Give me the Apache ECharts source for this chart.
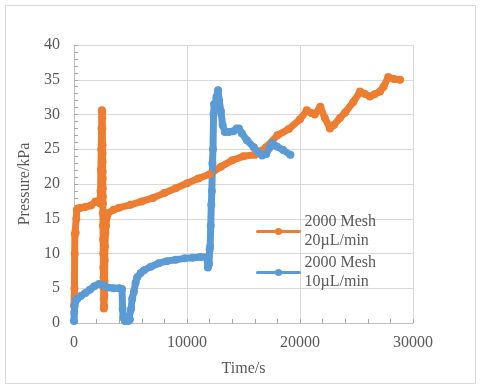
<!DOCTYPE html>
<html>
<head>
<meta charset="utf-8">
<script src="https://cdn.jsdelivr.net/npm/echarts@6/dist/echarts.min.js"></script>
<style>
html,body{margin:0;padding:0;background:#fff;}
#chart{width:480px;height:389px;}
</style>
</head>
<body>
<div id="chart"></div>
<script>
// Series names (legend)
const seriesNames = ['2000 Mesh\n20\u00b5L/min', '2000 Mesh\n10\u00b5L/min'];

// Axis ticks
const xTicks = [0, 10000, 20000, 30000];
const yTicks = [0, 5, 10, 15, 20, 25, 30, 35, 40];

// 2000 Mesh 20 uL/min (orange): time (s) and pressure (kPa)
const orangeTime = [0, 40, 60, 80, 150, 200, 250, 400, 600, 1000, 1500, 1900, 2100, 2300,
  2350, 2380, 2410, 2440, 2470, 2490, 2500, 2510, 2520, 2525, 2530, 2535, 2540, 2545, 2550, 2555,
  2560, 2570, 2580, 2590, 2600, 2610, 2620, 2630, 2640, 2660, 2680, 2700, 2720, 2740, 2780, 2830, 2900,
  3000, 3500, 4000, 5000, 6000, 7000, 8000, 9000, 10000, 11000, 12000, 13000, 14000,
  15000, 16000, 16500, 17000, 18000, 19000, 20000, 20600, 21000, 21300, 21800, 22200, 22650,
  23000, 23540, 24000, 24720, 25310, 25700, 26190, 26600, 27080, 27400, 27810, 28300, 28850];
const orangePressure = [2.5, 5, 10, 12.8, 13, 15, 16.3, 16.5, 16.6, 16.7, 16.9, 17.5, 17.5, 17.2,
  19, 22, 25, 28, 30.6, 30.3, 29.5, 28, 25.6, 24.4, 23.2, 21.8, 20.8, 19.4, 18.2, 17.2,
  15.8, 14, 12, 10, 8, 6.5, 5, 3.5, 2.1, 2.5, 4, 6, 9, 11, 13, 14, 15.2,
  15.8, 16.3, 16.6, 17.0, 17.5, 18.0, 18.7, 19.4, 20.1, 20.8, 21.4, 22.5, 23.4,
  24.0, 24.2, 24.7, 25.3, 27.0, 27.9, 29.3, 30.6, 30.2, 30.0, 31.1, 29.5, 28.0,
  28.5, 29.5, 30.3, 31.8, 33.3, 33.0, 32.6, 32.9, 33.3, 34.0, 35.4, 35.1, 35.0];

// 2000 Mesh 10 uL/min (blue): time (s) and pressure (kPa)
const blueTime = [0, 20, 60, 150, 300, 600, 1000, 1400, 1800, 2200, 2600, 3000, 3500, 4000,
  4250, 4300, 4350, 4500, 4800, 4950, 5050, 5150, 5300, 5450, 5600, 5900, 6200, 6800, 7500,
  8200, 9000, 9800, 10500, 11200, 11750, 11850, 11950, 12000, 12050, 12100, 12150, 12200,
  12250, 12300, 12350, 12400, 12500, 12600, 12750, 12850, 13000, 13150, 13350, 13700, 14100,
  14400, 14600, 14850, 15300, 15900, 16300, 16650, 17000, 17300, 17550, 17950, 18500, 19150];
const bluePressure = [0.3, 1.5, 2.5, 3.2, 3.5, 3.9, 4.3, 4.8, 5.3, 5.6, 5.4, 5.1, 5.0, 5.0,
  4.9, 2.0, 0.8, 0.3, 0.3, 0.5, 2.0, 3.5, 4.5, 5.8, 6.6, 7.2, 7.6, 8.1, 8.6,
  8.9, 9.1, 9.3, 9.4, 9.5, 9.5, 8.0, 8.5, 10.5, 11.0, 14.0, 17.0, 19.0,
  23.0, 25.0, 30.0, 31.5, 31.0, 32.5, 33.5, 32.0, 30.5, 28.5, 27.5, 27.5, 27.6,
  28.0, 28.0, 27.3, 26.3, 25.3, 24.6, 24.1, 24.3, 25.2, 25.9, 25.4, 24.9, 24.2];

const zip = (xs, ys) => xs.map((x, i) => [x, ys[i]]);

const FONT = '"Liberation Serif", "Times New Roman", serif';
const TXT = '#595959';
const ORANGE = '#ED7D31';
const BLUE = '#5B9BD5';
const TICK = '#A6A6A6';

const chart = echarts.init(document.getElementById('chart'), null, {renderer: 'canvas'});

function legendFor(name, top) {
  return {
    data: [name],
    left: 256,
    top: top,
    padding: 0,
    orient: 'vertical',
    itemWidth: 42,
    itemHeight: 9,
    lineStyle: {width: 3},
    textStyle: {
      fontFamily: FONT, fontSize: 16, color: TXT,
      lineHeight: 19, padding: [19, 0, 0, 0]
    }
  };
}

chart.setOption({
  animation: false,
  backgroundColor: '#fff',
  graphic: [{
    type: 'rect',
    shape: {x: 5.5, y: 5.5, width: 470, height: 378},
    style: {fill: 'none', stroke: '#D9D9D9', lineWidth: 1},
    silent: true,
    z: -10
  }],
  grid: {left: 74, right: 67, top: 45, bottom: 66, containLabel: false},
  legend: [legendFor(seriesNames[0], 203), legendFor(seriesNames[1], 244)],
  xAxis: {
    type: 'value',
    min: xTicks[0], max: xTicks[xTicks.length - 1], interval: xTicks[1] - xTicks[0],
    name: 'Time/s', nameLocation: 'middle', nameGap: 38,
    nameTextStyle: {fontFamily: FONT, fontSize: 16, color: TXT},
    axisLine: {show: true, lineStyle: {color: '#BFBFBF', width: 1}},
    axisTick: {show: true, inside: true, length: 4, lineStyle: {color: TICK}},
    minorTick: {show: true, splitNumber: 5, length: 4, lineStyle: {color: TICK}},
    axisLabel: {fontFamily: FONT, fontSize: 16, color: TXT, margin: 12,
      formatter: v => String(v)},
    splitLine: {show: true, lineStyle: {color: '#D9D9D9', width: 1}}
  },
  yAxis: {
    type: 'value',
    min: yTicks[0], max: yTicks[yTicks.length - 1], interval: yTicks[1] - yTicks[0],
    name: 'Pressure/kPa', nameLocation: 'middle', nameGap: 39,
    nameTextStyle: {fontFamily: FONT, fontSize: 16, color: TXT},
    axisLine: {show: true, lineStyle: {color: '#BFBFBF', width: 1}},
    axisTick: {show: true, inside: true, length: 4, lineStyle: {color: TICK}},
    minorTick: {show: true, splitNumber: 5, length: 4, lineStyle: {color: TICK}},
    axisLabel: {fontFamily: FONT, fontSize: 16, color: TXT, margin: 14,
      formatter: v => String(v)},
    splitLine: {show: true, lineStyle: {color: '#D9D9D9', width: 1}}
  },
  series: [
    {
      name: seriesNames[0],
      type: 'line',
      data: zip(orangeTime, orangePressure),
      symbol: 'circle', symbolSize: 8, showAllSymbol: true,
      itemStyle: {color: ORANGE},
      lineStyle: {color: ORANGE, width: 7, cap: 'round', join: 'round'}
    },
    {
      name: seriesNames[1],
      type: 'line',
      data: zip(blueTime, bluePressure),
      symbol: 'circle', symbolSize: 8, showAllSymbol: true,
      itemStyle: {color: BLUE},
      lineStyle: {color: BLUE, width: 7, cap: 'round', join: 'round'}
    }
  ]
});
</script>
</body>
</html>
